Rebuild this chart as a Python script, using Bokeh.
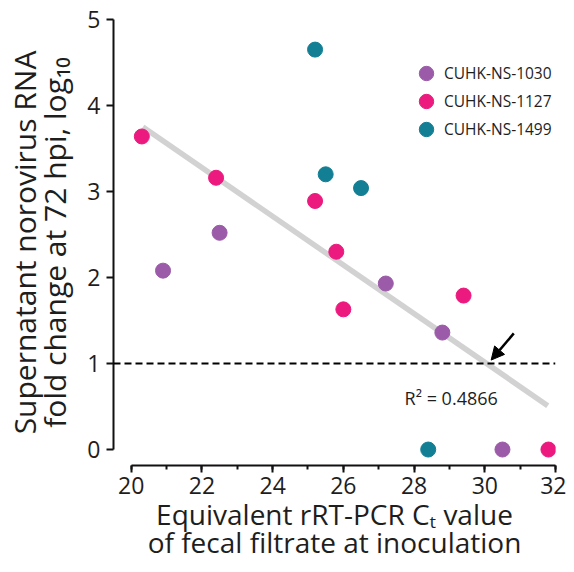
from bokeh.plotting import figure
from bokeh.models import (Range1d, SingleIntervalTicker, Span, Label, Arrow,
                          NormalHead, Legend, LegendItem)
from bokeh.embed import file_html
from bokeh.resources import INLINE

# ---------------- data ----------------
ct_1030 = [20.9, 22.5, 27.2, 28.8, 30.5]
fc_1030 = [2.08, 2.52, 1.93, 1.36, 0.0]

ct_1127 = [20.3, 22.4, 25.2, 25.8, 26.0, 29.4, 31.8]
fc_1127 = [3.64, 3.16, 2.89, 2.30, 1.63, 1.79, 0.0]

ct_1499 = [25.2, 25.5, 26.5, 28.4]
fc_1499 = [4.65, 3.20, 3.04, 0.0]

series_names = ["CUHK-NS-1030", "CUHK-NS-1127", "CUHK-NS-1499"]
series_colors = ["#9b5ba8", "#ec1a7e", "#127f95"]

fit_x = [20.33, 31.78]
fit_y = [3.75, 0.51]
threshold = 1.0
r2_text = "R² = 0.4866"
r2_pos = [29.05, 0.60]
arrow_tail = [30.82, 1.35]
arrow_head = [30.18, 1.04]

x_ticks_major = 2
y_ticks_major = 1

FONT = "Open Sans"
TXT = "#1e1e1e"

p = figure(width=566, height=564, output_backend="svg", toolbar_location=None,
           x_range=Range1d(19.499, 32), y_range=Range1d(-0.1856, 5.0),
           min_border_left=113, min_border_right=11, min_border_top=19,
           min_border_bottom=98)
p.outline_line_color = None
p.xgrid.visible = False
p.ygrid.visible = False
p.background_fill_color = "white"
p.border_fill_color = "white"

# regression line
p.line(fit_x, fit_y, line_color="#d2d2d2", line_width=5.5)

# threshold dashed line
p.add_layout(Span(location=threshold, dimension="width", line_color="black",
                  line_width=2, line_dash="7 4"))

renderers = []
for xs, ys, c in zip([ct_1030, ct_1127, ct_1499], [fc_1030, fc_1127, fc_1499], series_colors):
    r = p.scatter(xs, ys, size=15, fill_color=c, line_color=c, marker="circle")
    renderers.append(r)

# one legend per row so that rows can sit closer than the glyph box
for i, (n, r) in enumerate(zip(series_names, renderers)):
    lg = Legend(items=[LegendItem(label=n, renderers=[r])],
                location=(295, 374 - 28 * i), glyph_width=36, glyph_height=36,
                label_height=20, spacing=0, padding=0, margin=0, label_standoff=0,
                label_text_font=FONT, label_text_font_size="15.5px", label_text_color=TXT,
                border_line_color=None, background_fill_alpha=0)
    p.add_layout(lg)

p.add_layout(Label(x=r2_pos[0], y=r2_pos[1], text=r2_text, text_align="center",
                   text_baseline="middle", text_font=FONT, text_font_size="18px",
                   text_color=TXT))

p.add_layout(Arrow(x_start=arrow_tail[0], y_start=arrow_tail[1],
                   x_end=arrow_head[0], y_end=arrow_head[1],
                   line_color="black", line_width=2.5,
                   end=NormalHead(size=13, fill_color="black", line_color="black")))

# axes
xa = p.xaxis[0]
xa.ticker = SingleIntervalTicker(interval=x_ticks_major, num_minor_ticks=2)
xa.bounds = (20, 32)
xa.axis_label = "Equivalent rRT-PCR Cₜ value\nof fecal filtrate at inoculation"
ya = p.yaxis[0]
ya.ticker = SingleIntervalTicker(interval=y_ticks_major, num_minor_ticks=0)
ya.bounds = (0, 5)
ya.axis_label = "Supernatant norovirus RNA\nfold change at 72 hpi, log₁₀"

for ax in (xa, ya):
    ax.axis_line_color = "#111111"
    ax.axis_line_width = 2
    ax.major_tick_line_color = "#111111"
    ax.major_tick_line_width = 2
    ax.major_tick_out = 7
    ax.major_tick_in = 0
    ax.minor_tick_line_color = "#111111"
    ax.minor_tick_line_width = 2
    ax.minor_tick_out = 4
    ax.minor_tick_in = 0
    ax.major_label_text_font = FONT
    ax.major_label_text_font_size = "23px"
    ax.major_label_text_color = TXT
    ax.axis_label_text_font = FONT
    ax.axis_label_text_font_style = "normal"
    ax.axis_label_text_color = TXT
ya.minor_tick_line_color = None
xa.major_label_standoff = 4
xa.axis_label_text_font_size = "28px"
xa.axis_label_standoff = -2
xa.axis_label_text_line_height = 0.76
ya.major_label_standoff = 6
ya.axis_label_text_font_size = "30px"
ya.axis_label_standoff = 9
ya.axis_label_text_line_height = 0.75

open("out.html", "w").write(file_html(p, INLINE))
